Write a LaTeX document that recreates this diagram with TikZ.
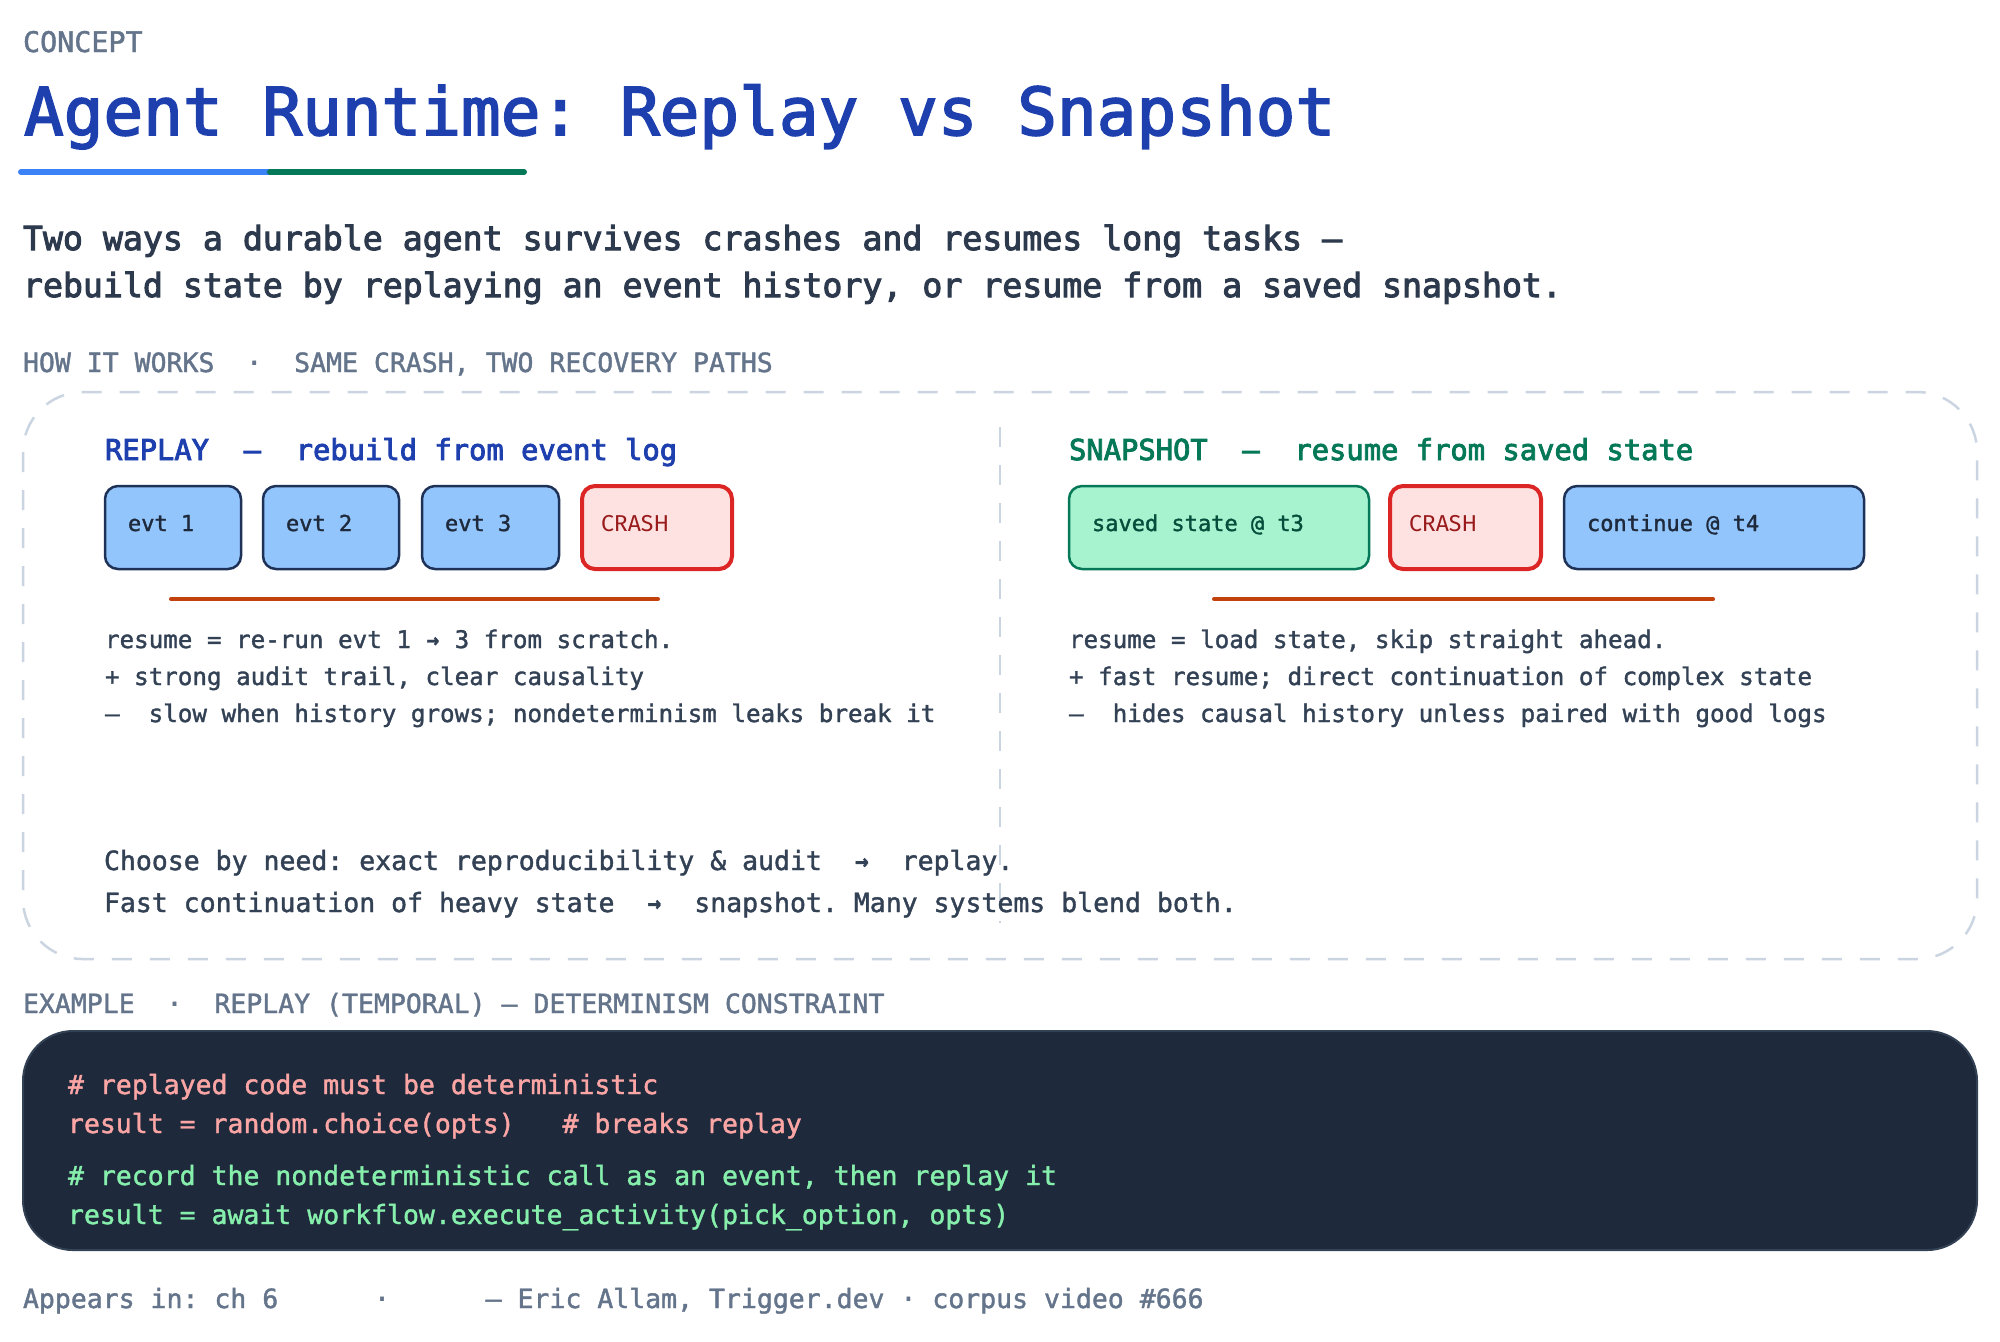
\documentclass[tikz,border=0pt]{standalone}
\usepackage{fontspec}
\usepackage{graphicx}
\setmainfont{DejaVu Sans Mono}
\newfontfamily\monof{DejaVu Sans Mono}
\newfontfamily\monosemi[FakeBold=3]{DejaVu Sans Mono}
\newfontfamily\monotitle[FakeBold=2.5]{DejaVu Sans Mono}
\newfontfamily\monolight[FakeBold=1.5]{DejaVu Sans Mono}
\newfontfamily\sansf{Fira Sans}
\newcommand{\fsz}[1]{\fontsize{#1pt}{#1pt}\selectfont}
\newcommand{\bxt}[2]{\makebox[#1][l]{#2}}
\newcommand{\arr}{\makebox[0.602em][c]{\raisebox{0.02em}{\scalebox{0.85}[0.95]{\bfseries →}}}}
\definecolor{labelgray}{HTML}{64748B}
\definecolor{titleblue}{HTML}{1E40AF}
\definecolor{bodytext}{HTML}{334155}
\definecolor{subtext}{HTML}{2D3A4E}
\definecolor{ulblue}{HTML}{3B82F6}
\definecolor{ulgreen}{HTML}{047857}
\definecolor{panelgray}{HTML}{CBD5E1}
\definecolor{snapgreen}{HTML}{047857}
\definecolor{evtfill}{HTML}{93C5FD}
\definecolor{evtborder}{HTML}{1E3258}
\definecolor{evttext}{HTML}{1E293B}
\definecolor{crashfill}{HTML}{FEE2E2}
\definecolor{crashborder}{HTML}{DC2626}
\definecolor{crashtext}{HTML}{991B1B}
\definecolor{savedfill}{HTML}{A7F3D0}
\definecolor{savedborder}{HTML}{047857}
\definecolor{savedtext}{HTML}{064E3B}
\definecolor{timeline}{HTML}{C2410C}
\definecolor{codebg}{HTML}{1E293B}
\definecolor{codeborder}{HTML}{334155}
\definecolor{codered}{HTML}{FCA5A5}
\definecolor{codegreen}{HTML}{86EFAC}
\begin{document}
\frenchspacing
\begin{tikzpicture}[x=0.5pt,y=-0.5pt,
  txt/.style={anchor=base west, inner sep=0pt, outer sep=0pt},
  lbl/.style={txt, font=\monolight\fsz{13.25}, text=labelgray},
  body/.style={txt, font=\monolight\fsz{12.1}, text=bodytext},
  choose/.style={txt, font=\monolight\fsz{13.25}, text=bodytext},
  coderedl/.style={txt, font=\monolight\fsz{13.25}, text=codered},
  codegreenl/.style={txt, font=\monolight\fsz{13.25}, text=codegreen},
  panel/.style={draw=panelgray, line width=1.25pt, dash pattern=on 10pt off 9pt},
  tl/.style={draw=timeline, line width=2pt, line cap=round},
  boxbase/.style={rounded corners=6.5pt, inner xsep=11.5pt, inner ysep=0pt, minimum height=41.5pt, text height=7pt, text depth=3.5pt, font=\monolight\fsz{11}},
  evtbox/.style={boxbase, draw=evtborder, fill=evtfill, line width=1.25pt, text=evttext},
  crashbox/.style={boxbase, draw=crashborder, fill=crashfill, line width=2pt, text=crashtext, font=\sansf\fsz{11.5}, inner xsep=9.5pt},
  savedbox/.style={boxbase, draw=savedborder, fill=savedfill, line width=1.25pt, text=savedtext}
]
\useasboundingbox[fill=white] (0,0) rectangle (2000,1341);

% header
\node[txt, font=\monolight\fsz{14.2}, text=labelgray] (concept) at (23,52) {CONCEPT};
\node[txt, font=\monotitle\fsz{33}, text=titleblue] (title) at (24,135) {Agent Runtime: Replay vs Snapshot};
\draw[ulblue, line width=3pt, line cap=round] (21,172) -- (270,172);
\draw[ulgreen, line width=3pt, line cap=round] (270,172) -- (524,172);

\node[txt, font=\monosemi\fsz{16.6}, text=subtext] (sub1) at (23,250) {Two ways a durable agent survives crashes and resumes long tasks —};
\node[txt, font=\monosemi\fsz{16.6}, text=subtext] (sub2) at (23,297) {rebuild state by replaying an event history, or resume from a saved snapshot.};

\node[lbl] (howlbl) at (23,372) {HOW IT WORKS~~·~~SAME CRASH, TWO RECOVERY PATHS};

% panel
\draw[panel, rounded corners=30pt] (23,392) rectangle (1977,959);
\draw[panel] (1000,427) -- (1000,923);

% replay side
\node[txt, font=\monosemi\fsz{14.4}, text=titleblue] (replayhd) at (105,460) {REPLAY~~—~~rebuild from event log};
\node[evtbox] (evt1) at (173,527.5) {\bxt{45pt}{evt 1}};
\node[evtbox] (evt2) at (331,527.5) {\bxt{45pt}{evt 2}};
\node[evtbox] (evt3) at (490.5,527.5) {\bxt{45.5pt}{evt 3}};
\node[crashbox] (crashL) at (657,527.5) {\bxt{56pt}{CRASH}};
\coordinate (tlLa) at (171,599);
\coordinate (tlLb) at (658,599);
\draw[tl] (tlLa) -- (tlLb);
\node[body] (rb1) at (105,648) {resume = re-run evt 1 \arr{} 3 from scratch.};
\node[body] (rb2) at (105,685) {+ strong audit trail, clear causality};
\node[body] (rb3) at (105,722) {–~~slow when history grows; nondeterminism leaks break it};

% snapshot side
\node[txt, font=\monosemi\fsz{14.4}, text=snapgreen] (snaphd) at (1069,460) {SNAPSHOT~~—~~resume from saved state};
\node[savedbox] (saved) at (1219,527.5) {\bxt{127pt}{saved state @ t3}};
\node[crashbox] (crashR) at (1465.5,527.5) {\bxt{56.5pt}{CRASH}};
\node[evtbox] (cont) at (1714,527.5) {\bxt{127pt}{continue @ t4}};
\coordinate (tlRa) at (1214,599);
\coordinate (tlRb) at (1713,599);
\draw[tl] (tlRa) -- (tlRb);
\node[body] (sb1) at (1069,648) {resume = load state, skip straight ahead.};
\node[body] (sb2) at (1069,685) {+ fast resume; direct continuation of complex state};
\node[body] (sb3) at (1069,722) {–~~hides causal history unless paired with good logs};

\node[choose] (ch1) at (104,870) {Choose by need: exact reproducibility \& audit~~\arr~~replay.};
\node[choose] (ch2) at (104,912) {Fast continuation of heavy state~~\arr~~snapshot. Many systems blend both.};

% example
\node[lbl] (exlbl) at (23,1013) {EXAMPLE~~·~~REPLAY (TEMPORAL) — DETERMINISM CONSTRAINT};
\draw[fill=codebg, draw=codeborder, line width=1pt, rounded corners=25pt] (23,1031) rectangle (1977,1250);
\node[coderedl] (c1) at (68,1094) {\# replayed code must be deterministic};
\node[coderedl] (c2) at (68,1133) {result = random.choice(opts)~~~\# breaks replay};
\node[codegreenl] (c3) at (68,1185) {\# record the nondeterministic call as an event, then replay it};
\node[codegreenl] (c4) at (68,1224) {result = await workflow.execute\_activity(pick\_option, opts)};

\node[lbl] (footer) at (23,1308) {Appears in: ch 6~~~~~~·~~~~~~— Eric Allam, Trigger.dev · corpus video \#666};
\end{tikzpicture}
\end{document}
